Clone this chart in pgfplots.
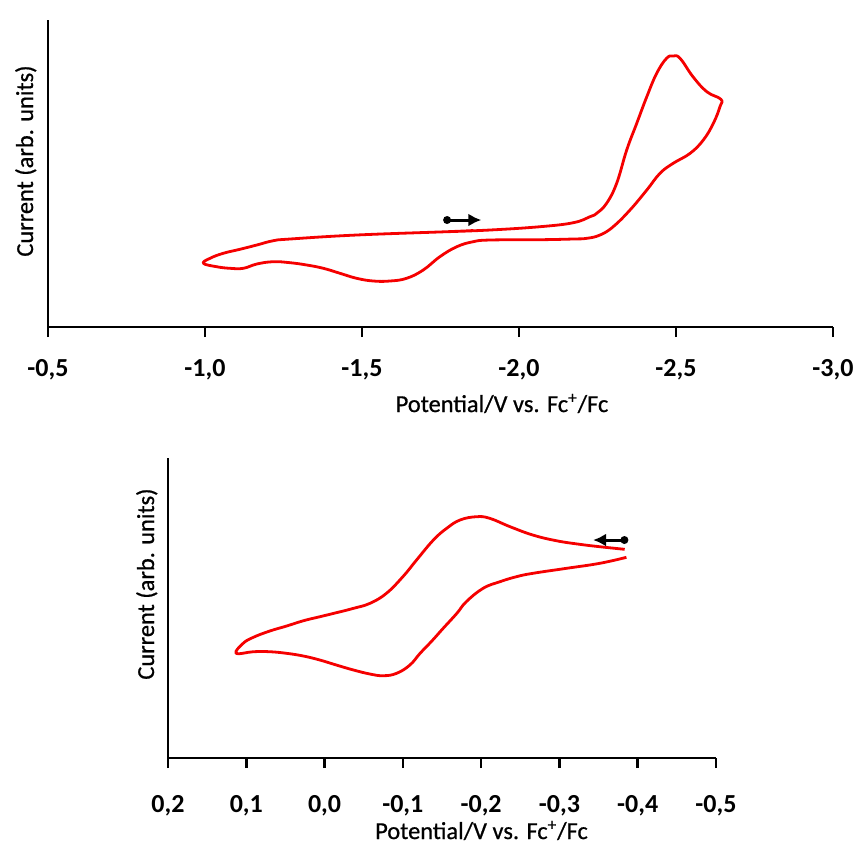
\documentclass[border=0pt]{standalone}
\usepackage{pgfplots}
\pgfplotsset{compat=1.18}
\usepackage{fontspec}
\setmainfont{Carlito}
\newfontfamily\labfont{Carlito}[FakeBold=0.7]
\usetikzlibrary{arrows.meta}
\definecolor{cvred}{RGB}{245,0,0}
\begin{document}
\begin{tikzpicture}
\useasboundingbox (0,0) rectangle (427pt,-421.5pt);
\pgfplotsset{
  cvaxis/.style={
    scale only axis,
    axis lines*=left,
    axis line style={line width=1.3pt,-},
    ytick=\empty,
    tick align=outside,
    major tick length=5pt,
    xtick style={line width=1.3pt,black},
    tick pos=left,
    x dir=reverse,
    /pgf/number format/.cd, use comma, fixed, fixed zerofill, precision=1, assume math mode=true,
    /pgfplots/.cd,
    xticklabel style={font=\fontsize{13}{15}\selectfont\bfseries, anchor=base},
    clip=false,
  },
  cvline/.style={cvred, line width=1.4pt, smooth, tension=0.7, line join=round},
}
% ---------- top panel ----------
\begin{axis}[cvaxis,
  at={(24pt,-163.5pt)}, anchor=south west,
  width=392.5pt, height=153.5pt,
  xmin=-3.0, xmax=-0.5, ymin=0, ymax=307,
  xtick={-3.0,-2.5,-2.0,-1.5,-1.0,-0.5},
  xticklabel style={yshift=-19.5pt},
]
\addplot[cvline] coordinates {
(-1.770,95.3) (-1.908,97) (-2.067,100.3) (-2.173,104.3) (-2.226,110.3)
(-2.2475,113.7) (-2.279,123.7) (-2.311,143.7) (-2.343,177) (-2.375,203.7)
(-2.407,230.3) (-2.4385,253.7) (-2.470,268.7) (-2.491,271) (-2.513,268.7)
(-2.554,250.3) (-2.598,235.3) (-2.643,227.7)
(-2.640,220.3) (-2.619,203.7) (-2.587,187) (-2.545,173.7) (-2.491,163.7)
(-2.449,153.7) (-2.407,137) (-2.3535,117) (-2.300,100.3) (-2.258,92)
(-2.216,88.7) (-2.172,88) (-2.067,87.3) (-1.908,87) (-1.854,85.3)
(-1.802,80.3) (-1.748,70.3) (-1.695,57) (-1.642,48.7) (-1.589,46)
(-1.536,46) (-1.483,48.7) (-1.430,53.7) (-1.377,58.7) (-1.324,62)
(-1.271,64.3) (-1.2175,65.3) (-1.165,63) (-1.122,58.7) (-1.080,58.7)
(-1.037,60.3) (-0.995,63.7)
(-1.016,68.7) (-1.058,73.7) (-1.111,77.7) (-1.165,82) (-1.2175,86.3)
(-1.271,88) (-1.483,92) (-1.770,95.3) (-1.854,96.5)
};
\draw[line width=1.5pt, -{Latex[length=6.5pt,width=6.5pt]}] (axis cs:-1.771,107) -- (axis cs:-1.880,107);
\fill (axis cs:-1.771,107) circle (2pt);
\end{axis}
% ---------- bottom panel ----------
\begin{axis}[cvaxis,
  at={(84pt,-379pt)}, anchor=south west,
  width=274pt, height=150pt,
  xmin=-0.5, xmax=0.2, ymin=0, ymax=300,
  xtick={-0.5,-0.4,-0.3,-0.2,-0.1,0,0.1,0.2},
  xticklabel style={yshift=-22pt},
]
\addplot[cvline] coordinates {
(-0.3834,208.7) (-0.3515,211.3) (-0.326,213.7) (-0.296,217.3) (-0.266,223)
(-0.237,231.3) (-0.211,239.7) (-0.194,241.3) (-0.173,238) (-0.156,229.7)
(-0.139,218) (-0.1175,198) (-0.100,181.3) (-0.079,164.7) (-0.058,154.7)
(-0.037,149.7) (-0.015,145.3) (0.006,141.3) (0.027,137.3) (0.0485,132)
(0.070,127) (0.091,120.7) (0.104,114.7) (0.113,104.7)
(0.091,106.3) (0.070,106.3) (0.0485,104.7) (0.027,102) (0.006,98)
(-0.015,93) (-0.037,88) (-0.058,84) (-0.075,82.3) (-0.092,84.7)
(-0.109,93) (-0.122,104.7) (-0.137,117) (-0.1515,129.7) (-0.169,144.7)
(-0.181,156.3) (-0.2025,169.7) (-0.224,176.3) (-0.245,181.3) (-0.266,184.7)
(-0.309,189.7) (-0.3515,194.7) (-0.3856,200.7)
};
\draw[line width=1.5pt, -{Latex[length=6.5pt,width=6.5pt]}] (axis cs:-0.383,218) -- (axis cs:-0.343,218);
\fill (axis cs:-0.383,218) circle (2pt);
\end{axis}
% ---------- axis titles ----------
\node[anchor=base, font=\labfont\fontsize{12.2}{15}\selectfont] at (251pt,-206pt) {Potential/V vs. Fc\textsuperscript{+}/Fc};
\node[anchor=base, font=\labfont\fontsize{12.2}{15}\selectfont] at (240.75pt,-419.5pt) {Potential/V vs. Fc\textsuperscript{+}/Fc};
\node[anchor=base, rotate=90, font=\labfont\fontsize{12.2}{15}\selectfont] at (16.5pt,-80.5pt) {Current (arb. units)};
\node[anchor=base, rotate=90, font=\labfont\fontsize{12.2}{15}\selectfont] at (77pt,-292pt) {Current (arb. units)};
\end{tikzpicture}
\end{document}
